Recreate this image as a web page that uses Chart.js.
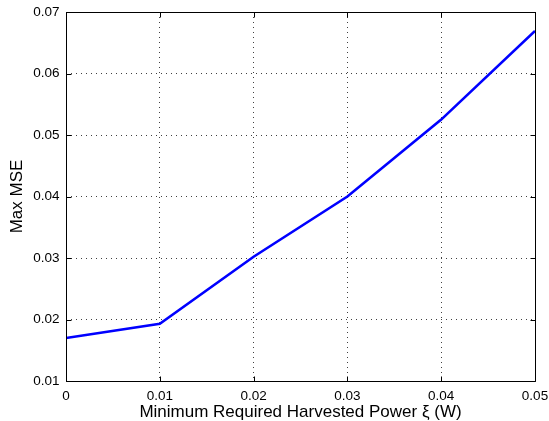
<!DOCTYPE html>
<html>
<head>
<meta charset="utf-8">
<script src="https://cdn.jsdelivr.net/npm/chart.js@4/dist/chart.umd.min.js"></script>
<style>
html,body{margin:0;padding:0;background:#fff;}
#wrap{width:549px;height:421px;position:relative;}
</style>
</head>
<body>
<div id="wrap"><canvas id="c" width="549" height="421"></canvas></div>
<script>
const xValues = [0, 0.01, 0.02, 0.03, 0.04, 0.05];
const maxMSE = [0.0170, 0.0193, 0.0302, 0.0400, 0.0525, 0.0669];
const xTickValues = [0, 0.01, 0.02, 0.03, 0.04, 0.05];
const xTickLabels = ['0', '0.01', '0.02', '0.03', '0.04', '0.05'];
const yTickValues = [0.01, 0.02, 0.03, 0.04, 0.05, 0.06, 0.07];
const yTickLabels = ['0.01', '0.02', '0.03', '0.04', '0.05', '0.06', '0.07'];
const xTitle = 'Minimum Required Harvested Power \u03BE (W)';
const yTitle = 'Max MSE';

const FONT = 'Liberation Sans, Arial, Helvetica, sans-serif';

const boxPlugin = {
  id: 'box',
  afterDraw(chart) {
    const ctx = chart.ctx, a = chart.chartArea;
    const xs = chart.scales.x, ys = chart.scales.y;
    ctx.save();
    ctx.strokeStyle = '#000';
    ctx.lineWidth = 1;
    ctx.beginPath();
    const L = Math.round(a.left) + 0.5, R = Math.round(a.right) + 0.5;
    const T = Math.round(a.top) + 0.5, B = Math.round(a.bottom) + 0.5;
    ctx.rect(L, T, R - L, B - T);
    const tl = 5;
    xTickValues.forEach(v => {
      const px = Math.round(xs.getPixelForValue(v)) + 0.5;
      ctx.moveTo(px, B); ctx.lineTo(px, B - tl);
      ctx.moveTo(px, T); ctx.lineTo(px, T + tl);
    });
    yTickValues.forEach(v => {
      const py = Math.round(ys.getPixelForValue(v)) + 0.5;
      ctx.moveTo(L, py); ctx.lineTo(L + tl, py);
      ctx.moveTo(R, py); ctx.lineTo(R - tl, py);
    });
    ctx.stroke();
    ctx.restore();
  }
};

new Chart(document.getElementById('c'), {
  type: 'line',
  data: {
    datasets: [{
      data: xValues.map((x, i) => ({ x: x, y: maxMSE[i] })),
      borderColor: '#0000ff',
      borderWidth: 2.6,
      pointRadius: 0,
      tension: 0,
      fill: false
    }]
  },
  options: {
    responsive: false,
    animation: false,
    devicePixelRatio: 1,
    layout: { padding: { top: 12, right: 14, left: 0, bottom: 0 } },
    plugins: { legend: { display: false }, tooltip: { enabled: false } },
    scales: {
      x: {
        type: 'linear',
        min: 0, max: 0.05,
        afterBuildTicks: s => { s.ticks = xTickValues.map(v => ({ value: v })); },
        afterFit: s => { s.height = 40; s.paddingLeft = 0; s.paddingRight = 0; },
        ticks: {
          callback: (v, i) => xTickLabels[i],
          color: '#000',
          font: { family: FONT, size: 13.5 },
          padding: 7,
          maxRotation: 0,
          autoSkip: false
        },
        grid: {
          color: 'rgba(0,0,0,0.75)',
          lineWidth: 1,
          drawTicks: false,
          tickLength: 0
        },
        border: { display: false, dash: [1, 4] },
        title: {
          display: true,
          text: xTitle,
          color: '#000',
          font: { family: FONT, size: 17, lineHeight: 1 },
          padding: { top: 0, bottom: 0 }
        }
      },
      y: {
        type: 'linear',
        min: 0.01, max: 0.07,
        afterBuildTicks: s => { s.ticks = yTickValues.map(v => ({ value: v })); },
        afterFit: s => { s.width = 66; s.paddingTop = 0; s.paddingBottom = 0; },
        ticks: {
          callback: (v, i) => yTickLabels[i],
          color: '#000',
          font: { family: FONT, size: 13.5 },
          padding: 6.5,
          autoSkip: false
        },
        grid: {
          color: 'rgba(0,0,0,0.75)',
          lineWidth: 1,
          drawTicks: false,
          tickLength: 0
        },
        border: { display: false, dash: [1, 4] },
        title: {
          display: true,
          text: yTitle,
          color: '#000',
          font: { family: FONT, size: 17, lineHeight: 1 },
          padding: { top: 8.5, bottom: 0 }
        }
      }
    }
  },
  plugins: [boxPlugin]
});
</script>
</body>
</html>
